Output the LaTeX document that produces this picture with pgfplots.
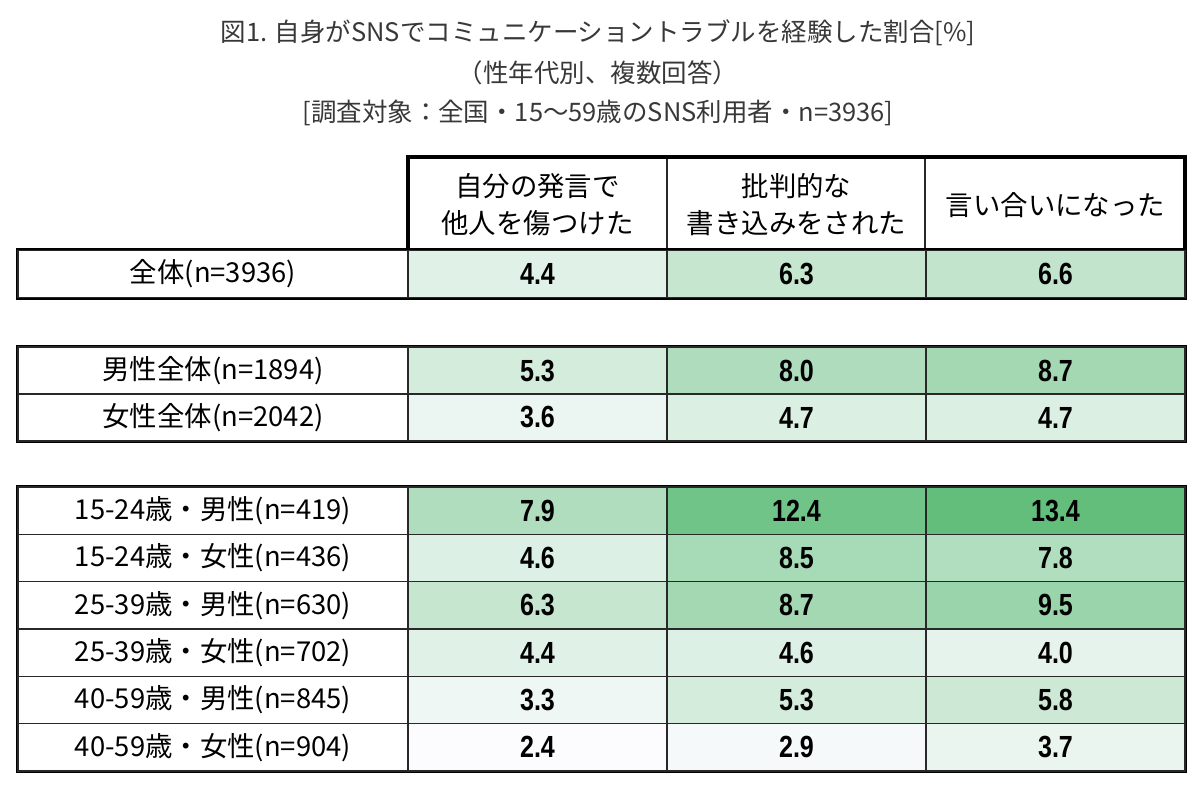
\documentclass[border=0pt]{standalone}
\usepackage{fontspec}
\setmainfont{Noto Sans CJK JP}
\newfontfamily\numfont{Liberation Sans}
\usepackage{graphicx}
\usepackage{pgfplots}
\pgfplotsset{compat=1.18}
\usepackage{pgfplotstable}

% cell centres (x, y in px of the reference; 1 px = 0.01cm) and values
\pgfplotstableread{
x y v
537.5 274 4.4
796.5 274 6.3
1055.5 274 6.6
537.5 370.5 5.3
796.5 370.5 8.0
1055.5 370.5 8.7
537.5 417.5 3.6
796.5 417.5 4.7
1055.5 417.5 4.7
537.5 510.7 7.9
796.5 510.7 12.4
1055.5 510.7 13.4
537.5 558 4.6
796.5 558 8.5
1055.5 558 7.8
537.5 605.3 6.3
796.5 605.3 8.7
1055.5 605.3 9.5
537.5 652.7 4.4
796.5 652.7 4.6
1055.5 652.7 4.0
537.5 700 3.3
796.5 700 5.3
1055.5 700 5.8
537.5 747.3 2.4
796.5 747.3 2.9
1055.5 747.3 3.7
}\cells

\pgfplotstableread{
x y label
213 274 全体(n=3936)
213 370.5 男性全体(n=1894)
213 417.5 女性全体(n=2042)
213 510.7 15-24歳・男性(n=419)
213 558 15-24歳・女性(n=436)
213 605.3 25-39歳・男性(n=630)
213 652.7 25-39歳・女性(n=702)
213 700 40-59歳・男性(n=845)
213 747.3 40-59歳・女性(n=904)
}\rows

\definecolor{lowc}{RGB}{252,252,255}
\definecolor{highc}{RGB}{99,190,123}
\definecolor{gridc}{RGB}{40,40,40}

\begin{document}
\begin{tikzpicture}
\begin{axis}[
    scale only axis,
    width=12cm, height=7.9cm,
    xmin=0, xmax=1200, ymin=0, ymax=790,
    y dir=reverse,
    hide axis,
    clip=false,
    /pgf/number format/assume math mode=true,
]
% value cells, shaded white -> green between 2.4 and 13.4
\addplot[
    only marks, mark=none,
    visualization depends on={(\thisrow{v}-2.4)/11*100 \as \pct},
    point meta=explicit,
    nodes near coords={\scalebox{0.82}[1]{\numfont\bfseries\pgfmathprintnumber[fixed,fixed zerofill,precision=1]{\pgfplotspointmeta}}},
    every node near coord/.style={anchor=center, inner sep=0pt, draw=gridc, line width=0.45pt,
        fill=highc!\pct!lowc, text=black, minimum width=2.59cm, minimum height=0.473cm,
        font=\fontsize{8.7}{9}\selectfont},
] table[x=x, y=y, meta=v] {\cells};
% row label cells
\addplot[
    only marks, mark=none,
    point meta=explicit symbolic,
    nodes near coords,
    every node near coord/.style={anchor=center, inner sep=0pt, draw=gridc, line width=0.45pt,
        fill=white, text=black, minimum width=3.9cm, minimum height=0.473cm,
        font=\fontsize{7.8}{9}\selectfont},
] table[x=x, y=y, meta=label] {\rows};

% header
\draw[gridc, line width=0.45pt] (axis cs:667,157) -- (axis cs:667,250)
      (axis cs:925,157) -- (axis cs:925,250);
\draw[black, line width=0.9pt] (axis cs:408,157) rectangle (axis cs:1185,250);
\node[align=center, font=\fontsize{7.8}{10.5}\selectfont] at (axis cs:537.5,205) {自分の発言で\\他人を傷つけた};
\node[align=center, font=\fontsize{7.8}{10.5}\selectfont] at (axis cs:796.5,205) {批判的な\\書き込みをされた};
\node[font=\fontsize{7.8}{10.5}\selectfont] at (axis cs:1055.5,205) {言い合いになった};

% heavy group borders
\begin{scope}[black, line width=0.9pt]
\draw (axis cs:18,250) rectangle (axis cs:1185,298);
\draw (axis cs:408,250) -- (axis cs:408,298);
\draw (axis cs:18,347) rectangle (axis cs:1185,441);
\draw (axis cs:408,347) -- (axis cs:408,441);
\draw (axis cs:18,487) rectangle (axis cs:1185,771);
\draw (axis cs:408,487) -- (axis cs:408,771);
\draw (axis cs:18,581.7) -- (axis cs:1185,581.7);
\draw (axis cs:18,676.3) -- (axis cs:1185,676.3);
\end{scope}

% title
\node[text=black!78, font=\fontsize{7.25}{9}\selectfont] at (axis cs:598,33) {図1. 自身がSNSでコミュニケーショントラブルを経験した割合[\%]};
\node[text=black!78, font=\fontsize{7.25}{9}\selectfont] at (axis cs:598,73) {（性年代別、複数回答）};
\node[text=black!78, font=\fontsize{7.25}{9}\selectfont] at (axis cs:598,113) {[調査対象：全国・15～59歳のSNS利用者・n=3936]};

\path (axis cs:0,0) (axis cs:1200,790);
\end{axis}
\end{tikzpicture}
\end{document}
